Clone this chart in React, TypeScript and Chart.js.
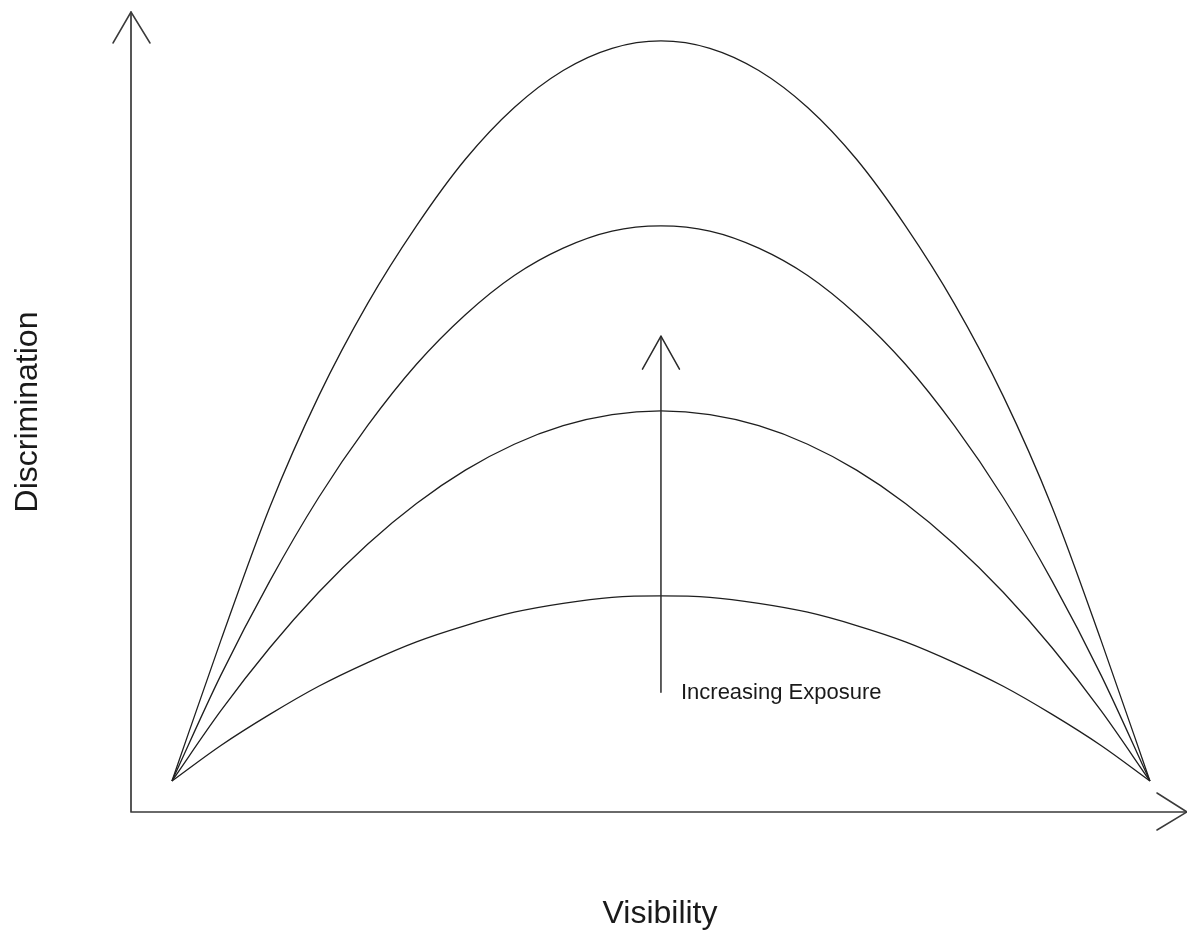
import React, { useEffect, useRef } from "react";
import { Chart, registerables } from "chart.js";

Chart.register(...registerables);

// Visibility positions (0 = left end of curves, 1 = right end)
const visibility = [
  0, 0.05, 0.1, 0.15, 0.2, 0.25, 0.3, 0.35, 0.4, 0.45, 0.5,
  0.55, 0.6, 0.65, 0.7, 0.75, 0.8, 0.85, 0.9, 0.95, 1,
];

// Discrimination for each exposure level
const exposureHighest = [
  0, 0.19, 0.37, 0.52, 0.645, 0.75, 0.84, 0.91, 0.96, 0.99, 1.0,
  0.99, 0.96, 0.91, 0.84, 0.75, 0.645, 0.52, 0.37, 0.19, 0,
];
const exposureHigh = [
  0, 0.143, 0.27, 0.383, 0.48, 0.563, 0.63, 0.683, 0.72, 0.743, 0.75,
  0.743, 0.72, 0.683, 0.63, 0.563, 0.48, 0.383, 0.27, 0.143, 0,
];
const exposureMedium = [
  0, 0.095, 0.18, 0.255, 0.32, 0.375, 0.42, 0.455, 0.48, 0.495, 0.5,
  0.495, 0.48, 0.455, 0.42, 0.375, 0.32, 0.255, 0.18, 0.095, 0,
];
const exposureLow = [
  0, 0.048, 0.09, 0.128, 0.16, 0.188, 0.21, 0.228, 0.24, 0.248, 0.25,
  0.248, 0.24, 0.228, 0.21, 0.188, 0.16, 0.128, 0.09, 0.048, 0,
];

const seriesList = [exposureHighest, exposureHigh, exposureMedium, exposureLow];

// Exposure arrow in data units
const arrowX = 0.5;
const arrowFrom = 0.12;
const arrowTo = 0.601;

const xAxisTitle = "Visibility";
const yAxisTitle = "Discrimination";
const arrowLabel = "Increasing Exposure";

const FONT = "'Liberation Sans', Arial, Helvetica, sans-serif";

const decorPlugin = {
  id: "decor",
  afterDatasetsDraw(chart: any) {
    const { ctx, chartArea, scales } = chart;
    const { left, right, top, bottom } = chartArea;
    ctx.save();
    ctx.lineCap = "round";
    ctx.lineJoin = "round";

    // Axes
    ctx.strokeStyle = "#3a3a3a";
    ctx.lineWidth = 1.7;
    ctx.beginPath();
    ctx.moveTo(left, top);
    ctx.lineTo(left, bottom);
    ctx.lineTo(right, bottom);
    ctx.stroke();

    ctx.lineWidth = 1.5;
    // Y axis arrowhead
    ctx.beginPath();
    ctx.moveTo(left - 18, top + 31);
    ctx.lineTo(left, top);
    ctx.lineTo(left + 19, top + 31);
    ctx.stroke();
    // X axis arrowhead
    ctx.beginPath();
    ctx.moveTo(right - 30, bottom - 19);
    ctx.lineTo(right, bottom);
    ctx.lineTo(right - 30, bottom + 18);
    ctx.stroke();

    // Exposure arrow
    const ax = scales.x.getPixelForValue(arrowX);
    const ay0 = scales.y.getPixelForValue(arrowFrom);
    const ay1 = scales.y.getPixelForValue(arrowTo);
    ctx.strokeStyle = "#2a2a2a";
    ctx.lineWidth = 1.5;
    ctx.beginPath();
    ctx.moveTo(ax, ay0);
    ctx.lineTo(ax, ay1);
    ctx.stroke();
    ctx.beginPath();
    ctx.moveTo(ax - 18.5, ay1 + 33);
    ctx.lineTo(ax, ay1);
    ctx.lineTo(ax + 18.5, ay1 + 33);
    ctx.stroke();

    // Arrow label
    ctx.fillStyle = "#1a1a1a";
    ctx.font = `22px ${FONT}`;
    ctx.textAlign = "left";
    ctx.textBaseline = "alphabetic";
    ctx.fillText(arrowLabel, ax + 20, ay0 + 7);

    // Axis titles
    ctx.font = `32px ${FONT}`;
    ctx.textAlign = "center";
    ctx.fillText(xAxisTitle, (left + right) / 2 + 1, bottom + 111);

    ctx.translate(37, (top + bottom) / 2);
    ctx.rotate(-Math.PI / 2);
    ctx.fillText(yAxisTitle, 0, 0);
    ctx.restore();
  },
};

export default function App() {
  const canvasRef = useRef<HTMLCanvasElement | null>(null);

  useEffect(() => {
    document.body.style.margin = "0";
    const canvas = canvasRef.current;
    if (!canvas) return;
    const chart = new Chart(canvas, {
      type: "line",
      data: {
        datasets: seriesList.map((s, i) => ({
          label: `Exposure ${i + 1}`,
          data: visibility.map((v, j) => ({ x: v, y: s[j] })),
          borderColor: "#1e1e1e",
          borderWidth: 1.3,
          pointRadius: 0,
          fill: false,
          cubicInterpolationMode: "monotone" as const,
        })),
      },
      options: {
        animation: false,
        responsive: false,
        maintainAspectRatio: false,
        devicePixelRatio: 1,
        layout: { padding: { left: 131, top: 12, right: 0, bottom: 120 } },
        plugins: {
          legend: { display: false },
          tooltip: { enabled: false },
          title: { display: false },
        },
        scales: {
          x: { type: "linear", min: -0.0419, max: 1.0379, display: false },
          y: { type: "linear", min: -0.0419, max: 1.039, display: false },
        },
      },
      plugins: [decorPlugin],
    });
    return () => chart.destroy();
  }, []);

  return (
    <div style={{ position: "absolute", left: 0, top: 0, width: 1187, height: 932, background: "#fff" }}>
      <canvas ref={canvasRef} width={1187} height={932} style={{ display: "block", width: 1187, height: 932 }} />
    </div>
  );
}
